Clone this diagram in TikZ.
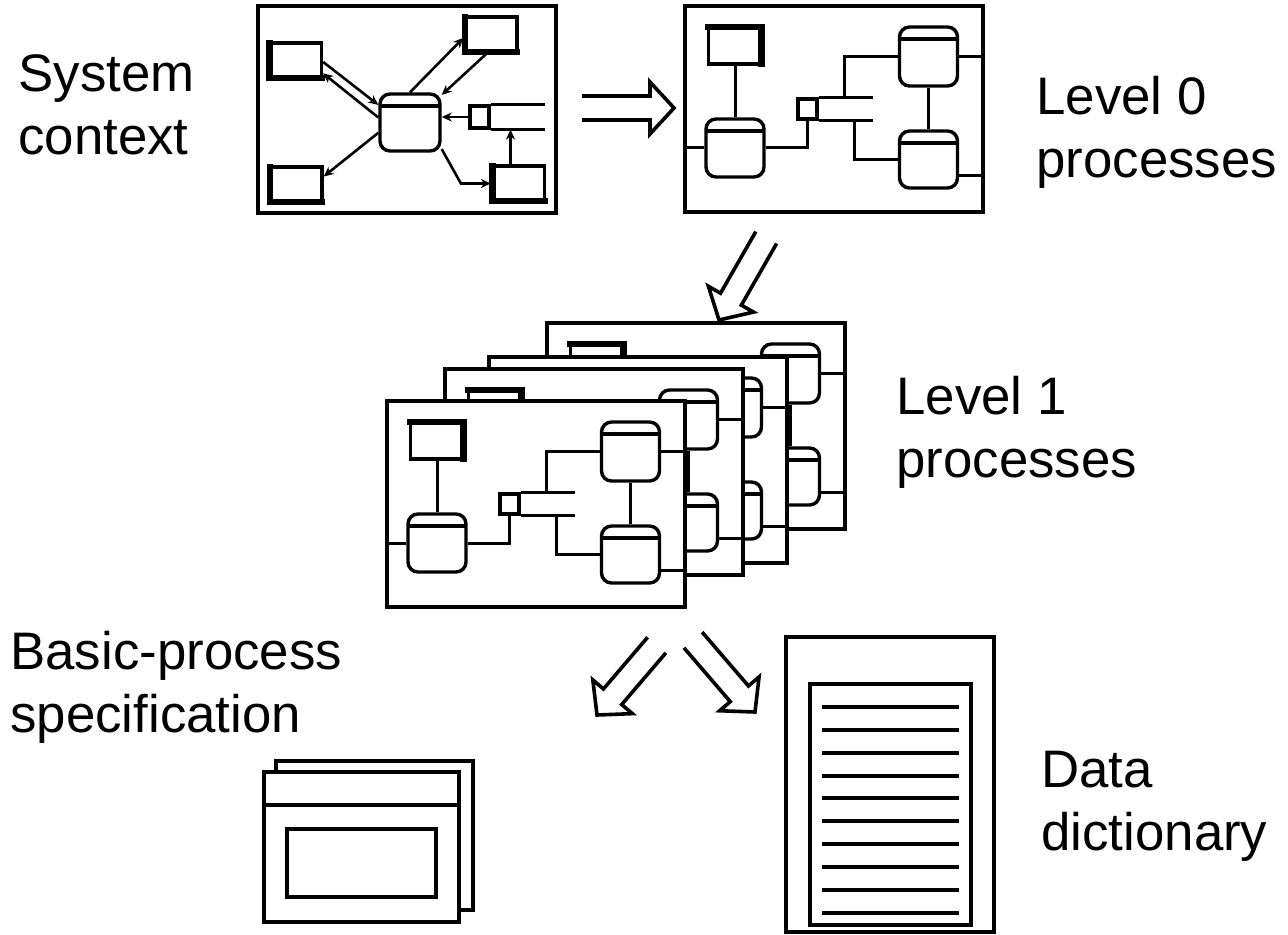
\documentclass[tikz,border=0pt]{standalone}
\usepackage{fontspec}
\setmainfont{Liberation Sans}
\usetikzlibrary{arrows.meta}

\tikzset{
  panel/.style={draw, line width=1.9pt, fill=white, inner sep=0pt,
    minimum width=149pt, minimum height=103pt},
  proc/.style={draw, line width=1.7pt, fill=white, rounded corners=5pt, inner sep=0pt,
    minimum width=29pt, minimum height=29pt,
    path picture={\draw[line width=1.7pt]
      ([yshift=-6pt]path picture bounding box.north west) --
      ([yshift=-6pt]path picture bounding box.north east);}},
  ent/.style={draw, line width=1.6pt, fill=white, inner sep=0pt,
    minimum width=26.5pt, minimum height=18.5pt},
  thick edge/.style={line width=3.2pt, line cap=rect},
  store/.style={draw, line width=1.6pt, fill=white, inner sep=0pt,
    minimum width=9.5pt, minimum height=10pt},
  flow/.style={line width=1.5pt},
  flowarrow/.style={line width=1.3pt, -{Stealth[length=5pt,width=4.5pt]}},
  icon/.style={draw, line width=1.8pt, fill=white, inner sep=0pt},
  rule/.style={line width=2pt},
  lbl/.style={anchor=north west, inner sep=0pt, align=left,
    font=\fontsize{26.4}{31.5}\selectfont},
  pics/bigarrow/.style={code={
    \draw[line width=1.8pt, line join=miter]
      (-#1,-12) -- (-24,-12) -- (-24,-26) -- (0,0) -- (-24,26) -- (-24,12) -- (-#1,12);}}
}

% one data-flow panel, local pixel coordinates from its top left corner
\newcommand{\dfdpanel}[1]{%
  \node[panel] (#1fr) at (149,103) {};
  \node[ent] (#1e) at (50,39.5) {};
  \draw[thick edge] ([shift={(0.8pt,-0.8pt)}]#1e.north west) -- ([shift={(-0.8pt,-0.8pt)}]#1e.north east)
    -- ([shift={(-0.8pt,0.8pt)}]#1e.south east);
  \node[proc] (#1a) at (50,142) {};
  \node[proc, minimum height=29.5pt] (#1b) at (243.5,50.5) {};
  \node[proc, minimum height=28.5pt] (#1c) at (243.5,153.5) {};
  \node[store] (#1d) at (122.5,103) {};
  \draw[flow] (#1d.north east) -- ++(54,0);
  \draw[flow] (#1d.south east) -- ++(54,0);
  \draw[flow] (#1e) -- (#1a);
  \draw[flow] (#1a.west) -- (#1a.west -| #1fr.west);
  \draw[flow] (#1a.east) -| (#1d.south);
  \draw[flow] (#1b.west) -| ([xshift=13pt]#1d.north east);
  \draw[flow] (#1c.west) -| ([xshift=18pt]#1d.south east);
  \draw[flow] (#1b) -- (#1c);
  \draw[flow] (#1b.east) -- (#1b.east -| #1fr.east);
  \draw[flow] ([yshift=-8pt]#1c.east) -- ([yshift=-8pt]#1c.east -| #1fr.east);
}

% external entity of the context diagram, heavy left and bottom sides
\newcommand{\ctxent}[3]{%
  \node[ent, minimum width=26pt, minimum height=17.5pt] (#1) at #2 {#3};
  \draw[thick edge] ([shift={(0.8pt,-0.8pt)}]#1.north west) -- ([shift={(0.8pt,0.8pt)}]#1.south west)
    -- ([shift={(-0.8pt,0.8pt)}]#1.south east);
}

\begin{document}
\begin{tikzpicture}[x=0.5pt, y=-0.5pt]
  \useasboundingbox (0,0) rectangle (1288,935);

  % system context
  \node[panel, minimum height=103.5pt] (ctx) at (407,109.5) {};
  \ctxent{e1}{(295.5,60.5)}{}
  \ctxent{e2}{(491,34.5)}{}
  \ctxent{e3}{(296,184.5)}{}
  \ctxent{e4}{(518.5,183.5)}{}
  \node[proc, minimum width=30pt, minimum height=28.5pt] (p) at (410,122.5) {};
  \node[store, minimum height=11pt] (ds) at (479.5,117) {};
  \draw[flow] (ds.north east) -- ++(54,0);
  \draw[flow] (ds.south east) -- ++(54,0);
  \draw[flowarrow] (e1.-3) -- (p.151);
  \draw[flowarrow] (p.171) -- (e1.-25);
  \draw[flowarrow] (p.north) -- (e2.187);
  \draw[flowarrow] (e2.-103) -- (p.41);
  \draw[flowarrow] (ds.west) -- (ds.west -| p.east);
  \draw[flowarrow] ([xshift=-4pt]e4.north) -- ([xshift=-4pt]e4.north |- ds.south);
  \draw[flowarrow] (p.198) -- (e3.16);
  \draw[flowarrow] (p.-40) -- ([xshift=-15pt]e4.west) -- (e4.west);

  % level 0
  \begin{scope}[shift={(685,6)}]
    \dfdpanel{zero}
  \end{scope}

  % level 1, back to front
  \begin{scope}[shift={(547,323)}]
    \dfdpanel{oned}
  \end{scope}
  \begin{scope}[shift={(489,357)}]
    \dfdpanel{onec}
  \end{scope}
  \begin{scope}[shift={(445,369)}]
    \dfdpanel{oneb}
  \end{scope}
  \begin{scope}[shift={(387,401)}]
    \dfdpanel{onea}
  \end{scope}

  % hollow arrows
  \pic at (674,108) {bigarrow=92};
  \pic[rotate=-119.8] at (719,320) {bigarrow=95};
  \pic[rotate=-130.5] at (597,715) {bigarrow=92};
  \pic[rotate=-49.3] at (755,712) {bigarrow=95};

  % basic-process specification
  \node[icon, minimum width=98.5pt, minimum height=74.5pt] (specb) at (374.5,835.5) {};
  \node[icon, minimum width=97.5pt, minimum height=75pt] (specf) at (361.5,847) {};
  \draw[line width=1.8pt] ([yshift=-17.5pt]specf.north west) -- ([yshift=-17.5pt]specf.north east);
  \node[icon, minimum width=74.5pt, minimum height=34pt] (speci) at (361.5,863) {};

  % data dictionary
  \node[icon, minimum width=104pt, minimum height=147.5pt] (dict) at (890,784.5) {};
  \node[icon, minimum width=80.5pt, minimum height=120.5pt] (dictin) at (890.5,804.5) {};
  \foreach \k in {0,...,9}
    \draw[rule] (822,707+22.85*\k) -- (959,707+22.85*\k);

  % labels
  \node[lbl] (tctx) at (18,54) {System\\context};
  \node[lbl] (tzero) at (1036,76) {Level 0\\processes};
  \node[lbl] (tone) at (896,376) {Level 1\\processes};
  \node[lbl] (tspec) at (10,631) {Basic-process\\specification};
  \node[lbl] (tdict) at (1041,751) {Data\\dictionary};
\end{tikzpicture}
\end{document}
